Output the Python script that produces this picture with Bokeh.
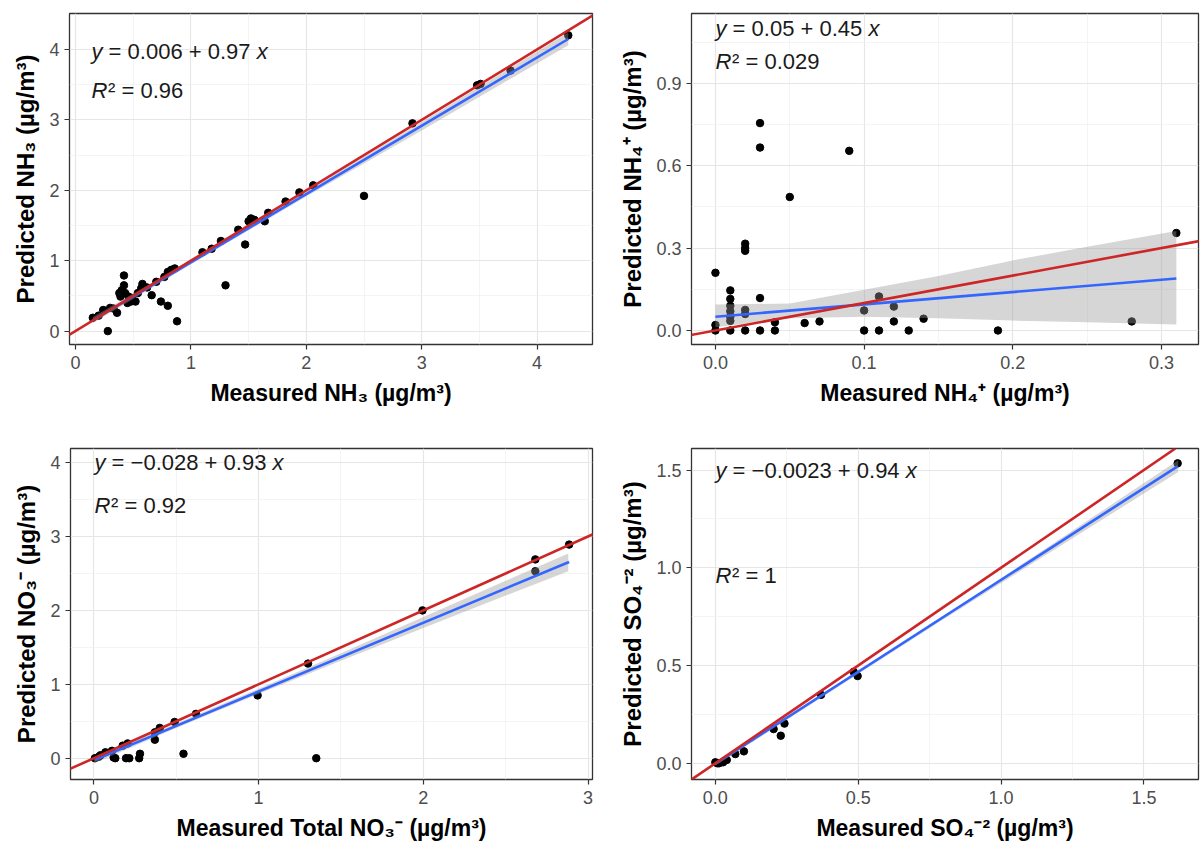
from bokeh.plotting import figure
from bokeh.layouts import column, row
from bokeh.models import Range1d, FixedTicker, NumeralTickFormatter, Label, Slope
from bokeh.embed import file_html
from bokeh.resources import INLINE

# ---------------- data ----------------
nh3_measured = [0.15, 0.20, 0.24, 0.28, 0.30, 0.33, 0.36, 0.38, 0.39, 0.40, 0.42, 0.42, 0.43, 0.45, 0.46,
                0.48, 0.49, 0.52, 0.54, 0.57, 0.58, 0.62, 0.66, 0.70, 0.74, 0.77, 0.80, 0.80, 0.83, 0.86,
                0.88, 1.10, 1.18, 1.26, 1.30, 1.41, 1.47, 1.50, 1.52, 1.55, 1.64, 1.67, 1.82, 1.94, 2.06,
                2.50, 2.92, 3.48, 3.51, 3.77, 4.27]
nh3_predicted = [0.19, 0.22, 0.30, 0.00, 0.33, 0.32, 0.26, 0.54, 0.49, 0.58, 0.65, 0.79, 0.54, 0.40, 0.49,
                 0.42, 0.47, 0.42, 0.54, 0.61, 0.67, 0.62, 0.51, 0.70, 0.42, 0.77, 0.36, 0.84, 0.87, 0.89,
                 0.14, 1.12, 1.17, 1.28, 0.65, 1.44, 1.23, 1.56, 1.60, 1.58, 1.56, 1.68, 1.84, 1.97, 2.07,
                 1.92, 2.95, 3.49, 3.51, 3.70, 4.20]
nh3_fit = (0.006, 0.97)
nh3_band_x = [0.15, 1.0, 2.0, 3.0, 4.27]
nh3_band_lo = [0.11, 0.95, 1.91, 2.85, 4.06]
nh3_band_hi = [0.20, 1.01, 1.98, 2.97, 4.24]

nh4_measured = [0.00, 0.00, 0.00, 0.01, 0.01, 0.01, 0.01, 0.01, 0.01, 0.01, 0.02, 0.02, 0.02, 0.02, 0.02,
                0.02, 0.03, 0.03, 0.03, 0.03, 0.04, 0.04, 0.05, 0.06, 0.07, 0.09, 0.10, 0.10, 0.11, 0.11,
                0.12, 0.12, 0.13, 0.14, 0.19, 0.28, 0.31]
nh4_predicted = [0.21, 0.02, 0.00, 0.146, 0.115, 0.09, 0.07, 0.05, 0.035, 0.00, 0.316, 0.30, 0.29, 0.075,
                 0.06, 0.00, 0.755, 0.666, 0.118, 0.00, 0.00, 0.03, 0.486, 0.027, 0.033, 0.654, 0.073, 0.00,
                 0.124, 0.00, 0.087, 0.033, 0.00, 0.043, 0.00, 0.033, 0.355]
nh4_fit = (0.05, 0.45)
nh4_band_x = [0.0, 0.05, 0.10, 0.15, 0.20, 0.25, 0.31]
nh4_band_lo = [0.012, 0.045, 0.050, 0.045, 0.036, 0.030, 0.022]
nh4_band_hi = [0.095, 0.098, 0.148, 0.198, 0.255, 0.305, 0.362]

no3_measured = [0.006, 0.03, 0.04, 0.07, 0.11, 0.12, 0.13, 0.175, 0.195, 0.205, 0.215, 0.275, 0.28, 0.37,
                0.37, 0.40, 0.49, 0.544, 0.62, 0.994, 1.30, 1.35, 1.995, 2.68, 2.68, 2.885]
no3_predicted = [0.00, 0.02, 0.04, 0.08, 0.10, 0.01, 0.00, 0.17, 0.00, 0.20, 0.00, 0.00, 0.06, 0.35,
                 0.25, 0.41, 0.49, 0.06, 0.60, 0.85, 1.28, 0.00, 2.00, 2.69, 2.53, 2.89]
no3_fit = (-0.028, 0.93)
no3_band_x = [0.0, 0.5, 1.0, 1.5, 2.0, 2.5, 2.88]
no3_band_lo = [-0.07, 0.41, 0.87, 1.32, 1.76, 2.20, 2.53]
no3_band_hi = [0.01, 0.47, 0.94, 1.42, 1.91, 2.40, 2.77]

so4_measured = [0.0, 0.007, 0.013, 0.027, 0.04, 0.07, 0.10, 0.204, 0.229, 0.242, 0.37, 0.484, 0.498, 1.618]
so4_predicted = [0.005, 0.0, 0.0, 0.005, 0.017, 0.047, 0.061, 0.175, 0.141, 0.203, 0.35, 0.468, 0.446, 1.534]
so4_fit = (-0.0023, 0.94)
so4_band_x = [0.0, 0.8, 1.62]
so4_band_lo = [-0.012, 0.738, 1.49]
so4_band_hi = [0.008, 0.752, 1.55]

# ---------------- style ----------------
FONT = "Liberation Sans"
RED = "#CD2626"
BLUE = "#3366FF"
EQ_SIZE = 22
W = {' ': 278, '=': 584, '+': 584, '\u2212': 584, '.': 278, 'y': 500, 'x': 500, 'R': 722, '\u00b2': 333}
for d in "0123456789":
    W[d] = 556


def text_width(t, size):
    return sum(W.get(c, 556) for c in t) * size / 1000.0


panels = [
    dict(mx=nh3_measured, my=nh3_predicted, fit=nh3_fit, bx=nh3_band_x, blo=nh3_band_lo, bhi=nh3_band_hi,
         xr=(-0.052, 4.48), yr=(-0.19, 4.51), xt=[0, 1, 2, 3, 4], xm=[0.5, 1.5, 2.5, 3.5],
         yt=[0, 1, 2, 3, 4], ym=[0.5, 1.5, 2.5, 3.5], fmt=None,
         frame=(69, 11, 523, 335), row_top=0,
         xlabel="Measured NH\u2083 (\u00b5g/m\u00b3)", ylabel="Predicted NH\u2083 (\u00b5g/m\u00b3)",
         eq="0.006 + 0.97", r2="0.96", eqpos=(91, 49), r2pos=(91, 89)),
    dict(mx=nh4_measured, my=nh4_predicted, fit=nh4_fit, bx=nh4_band_x, blo=nh4_band_lo, bhi=nh4_band_hi,
         xr=(-0.0161, 0.3249), yr=(-0.051, 1.154), xt=[0, 0.1, 0.2, 0.3], xm=[0.05, 0.15, 0.25],
         yt=[0, 0.3, 0.6, 0.9], ym=[0.15, 0.45, 0.75, 1.05], fmt="0.0",
         frame=(691, 13, 507, 331), row_top=0,
         xlabel="Measured NH\u2084\u207a (\u00b5g/m\u00b3)", ylabel="Predicted NH\u2084\u207a (\u00b5g/m\u00b3)",
         eq="0.05 + 0.45", r2="0.029", eqpos=(715, 28), r2pos=(715, 61)),
    dict(mx=no3_measured, my=no3_predicted, fit=no3_fit, bx=no3_band_x, blo=no3_band_lo, bhi=no3_band_hi,
         xr=(-0.142, 3.027), yr=(-0.288, 4.19), xt=[0, 1, 2, 3], xm=[0.5, 1.5, 2.5],
         yt=[0, 1, 2, 3, 4], ym=[0.5, 1.5, 2.5, 3.5], fmt=None,
         frame=(70, 448, 522, 331), row_top=425,
         xlabel="Measured Total NO\u2083\u207b (\u00b5g/m\u00b3)", ylabel="Predicted NO\u2083\u207b (\u00b5g/m\u00b3)",
         eq="\u22120.028 + 0.93", r2="0.92", eqpos=(94, 462), r2pos=(94, 505)),
    dict(mx=so4_measured, my=so4_predicted, fit=so4_fit, bx=so4_band_x, blo=so4_band_lo, bhi=so4_band_hi,
         xr=(-0.0834, 1.691), yr=(-0.083, 1.610), xt=[0, 0.5, 1.0, 1.5], xm=[0.25, 0.75, 1.25],
         yt=[0, 0.5, 1.0, 1.5], ym=[0.25, 0.75, 1.25], fmt="0.0",
         frame=(691, 446, 507, 333), row_top=425,
         xlabel="Measured SO\u2084\u207b\u00b2 (\u00b5g/m\u00b3)", ylabel="Predicted SO\u2084\u207b\u00b2 (\u00b5g/m\u00b3)",
         eq="\u22120.0023 + 0.94", r2="1", eqpos=(715, 468), r2pos=(715, 574)),
]


def make_panel(c, col_left):
    fl, ft, fw, fh = c["frame"]
    fig_w, fig_h = 600, 425
    mb_left = fl - col_left
    mb_right = fig_w - mb_left - fw
    mb_top = ft - c["row_top"]
    mb_bottom = fig_h - mb_top - fh
    p = figure(width=fig_w, height=fig_h, x_range=Range1d(*c["xr"]), y_range=Range1d(*c["yr"]),
               output_backend="svg", toolbar_location=None,
               min_border_left=mb_left, min_border_right=mb_right,
               min_border_top=mb_top, min_border_bottom=mb_bottom)
    p.background_fill_color = "white"
    p.border_fill_color = "white"
    p.outline_line_color = "#333333"
    p.outline_line_width = 1.3

    p.xaxis.ticker = FixedTicker(ticks=c["xt"], minor_ticks=c["xm"])
    p.yaxis.ticker = FixedTicker(ticks=c["yt"], minor_ticks=c["ym"])
    if c["fmt"]:
        p.xaxis.formatter = NumeralTickFormatter(format=c["fmt"])
        p.yaxis.formatter = NumeralTickFormatter(format=c["fmt"])
    for g in (p.xgrid, p.ygrid):
        g.grid_line_color = "#E6E6E6"
        g.grid_line_width = 1.2
        g.minor_grid_line_color = "#EFEFEF"
        g.minor_grid_line_width = 0.7
    for ax in (p.xaxis, p.yaxis):
        ax.axis_line_color = None
        ax.major_tick_line_color = "#333333"
        ax.major_tick_line_width = 1.2
        ax.major_tick_out = 5
        ax.major_tick_in = 0
        ax.minor_tick_line_color = None
        ax.major_label_text_font = FONT
        ax.major_label_text_font_size = "18px"
        ax.major_label_text_color = "#4D4D4D"
        ax.axis_label_text_font = FONT
        ax.axis_label_text_font_style = "bold"
        ax.axis_label_text_color = "black"
    p.xaxis.axis_label_text_font_size = "23px"
    p.yaxis.axis_label_text_font_size = "24px"
    p.xaxis.axis_label = c["xlabel"]
    p.yaxis.axis_label = c["ylabel"]
    p.xaxis.major_label_standoff = 6
    p.yaxis.major_label_standoff = 5
    p.xaxis.axis_label_standoff = 8
    p.yaxis.axis_label_standoff = 7

    # points, then confidence band, fitted line, 1:1 line
    p.scatter(c["mx"], c["my"], size=7.5, color="black")
    p.varea(x=c["bx"], y1=c["blo"], y2=c["bhi"], fill_color="#999999", fill_alpha=0.4)
    a, b = c["fit"]
    x0, x1 = min(c["mx"]), max(c["mx"])
    p.line([x0, x1], [a + b * x0, a + b * x1], line_color=BLUE, line_width=2.6)
    p.add_layout(Slope(gradient=1, y_intercept=0, line_color=RED, line_width=2.6))

    # equation annotations (positions given in page pixels)
    xr0, xr1 = c["xr"]
    yr0, yr1 = c["yr"]

    def to_data(px, py):
        return (xr0 + (px - fl) / fw * (xr1 - xr0), yr1 - (py - ft) / fh * (yr1 - yr0))

    def put(parts, pos):
        # parts: (text, italic, space_before)
        dx, dy = to_data(*pos)
        off = 0.0
        for t, it, gap in parts:
            off += gap * EQ_SIZE / 1000.0
            p.add_layout(Label(x=dx, y=dy, x_offset=off, text=t, text_font=FONT,
                               text_font_size="%dpx" % EQ_SIZE,
                               text_font_style="italic" if it else "normal", text_baseline="middle",
                               text_color="#1A1A1A"))
            off += text_width(t, EQ_SIZE)

    put([("y", True, 0), ("= " + c["eq"], False, 278), ("x", True, 278)], c["eqpos"])
    put([("R", True, 0), ("\u00b2 = " + c["r2"], False, 30)], c["r2pos"])
    return p


p1 = make_panel(panels[0], 0)
p2 = make_panel(panels[1], 600)
p3 = make_panel(panels[2], 0)
p4 = make_panel(panels[3], 600)

layout = column(row(p1, p2), row(p3, p4))
open("out.html", "w").write(file_html(layout, INLINE))
